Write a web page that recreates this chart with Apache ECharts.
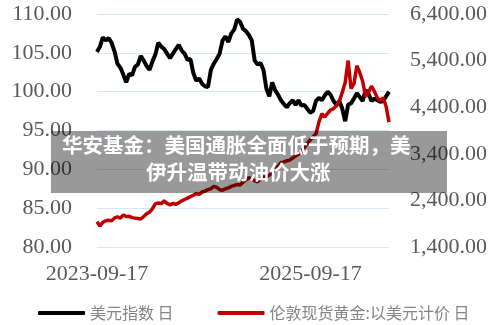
<!DOCTYPE html>
<html>
<head>
<meta charset="utf-8">
<script src="https://cdn.jsdelivr.net/npm/echarts@6/dist/echarts.min.js"></script>
<style>
html,body{margin:0;padding:0;background:#fff;}
#chart{width:500px;height:325px;}
</style>
</head>
<body>
<div id="chart"></div>
<script>
// ---- data ----
const startDate = '2023-09-17';
const stepDays = 10;
const seriesNames = ['美元指数 日', '伦敦现货黄金:以美元计价 日'];
const xTickLabels = ['2023-09-17', '2025-09-17'];
const leftTicks = [80, 85, 90, 95, 100, 105, 110];
const rightTicks = [1400, 2400, 3400, 4400, 5400, 6400];
const dxy = [
  105.1,105.8,107.0,106.6,106.9,106.3,105.2,103.6,103.1,102.2,
  101.2,102.3,102.1,103.2,103.5,104.6,104.0,103.3,102.8,103.9,
  104.8,106.3,105.8,105.5,104.9,104.3,104.9,105.5,106.0,105.3,
  104.9,104.1,104.2,102.4,101.4,101.7,101.0,100.7,100.6,102.8,
  103.6,104.2,104.9,106.6,107.1,106.4,107.5,108.0,109.3,109.0,
  108.1,107.8,107.3,106.6,104.0,103.5,103.7,102.8,100.4,99.4,
  101.2,100.2,99.6,98.9,98.4,98.0,98.5,98.9,98.3,98.9,
  98.2,98.3,97.8,97.3,97.5,98.8,99.2,98.9,99.5,100.0,
  99.6,98.8,98.3,98.8,97.8,96.2,98.3,98.5,99.1,99.8,
  99.3,98.8,100.2,99.7,98.8,99.1,98.9,98.7,98.8,99.4,
  100.0
];
const gold = [
  1943,1850,1930,1965,1975,1960,2025,2045,2020,2085,
  2055,2060,2030,2020,2010,2000,2055,2115,2150,2225,
  2330,2345,2330,2390,2335,2305,2335,2315,2350,2390,
  2420,2450,2480,2510,2550,2530,2580,2600,2630,2650,
  2700,2680,2630,2620,2650,2670,2700,2720,2740,2730,
  2790,2840,2890,2860,2820,2800,2860,2900,2910,2940,
  3000,3050,3130,3210,3225,3250,3265,3310,3350,3390,
  3440,3530,3620,3700,3760,3830,4080,4260,4190,4270,
  4340,4370,4430,4530,4720,4930,5400,4800,4900,5290,
  5140,4950,4630,4720,4850,4740,4600,4540,4600,4420,
  4080
];

// ---- helpers ----
const DAY = 86400000;
const t0 = Date.parse(startDate + 'T00:00:00Z');
function fmtDate(ms){
  const d = new Date(ms);
  const p = n => (n < 10 ? '0' : '') + n;
  return d.getUTCFullYear() + '-' + p(d.getUTCMonth() + 1) + '-' + p(d.getUTCDate());
}
const dates = dxy.map((_, i) => fmtDate(t0 + i * stepDays * DAY));
const dayOff = s => Math.round((Date.parse(s + 'T00:00:00Z') - t0) / DAY);
const xs = dates.map(dayOff);
const tickInterval = dayOff(xTickLabels[1]) - dayOff(xTickLabels[0]);

const serif = '"Liberation Serif", "Times New Roman", serif';
const cjk = '"Noto Sans CJK SC", sans-serif';

const chart = echarts.init(document.getElementById('chart'), null, {renderer: 'canvas'});
chart.setOption({
  animation: false,
  backgroundColor: '#ffffff',
  grid: {left: 97, right: 111, top: 14, bottom: 78, containLabel: false},
  legend: {
    left: 33, top: 300, itemWidth: 47, itemHeight: 4, itemGap: 44,
    icon: 'roundRect',
    textStyle: {fontFamily: cjk, fontSize: 16, color: '#858585'},
    data: seriesNames
  },
  xAxis: {
    type: 'value', min: 0, max: xs[xs.length - 1], interval: tickInterval,
    axisLine: {show: false}, axisTick: {show: false}, splitLine: {show: false},
    axisLabel: {
      margin: 16, showMaxLabel: false, color: '#595959',
      fontFamily: serif, fontSize: 22,
      formatter: v => fmtDate(t0 + v * DAY)
    }
  },
  yAxis: [
    {
      type: 'value', min: leftTicks[0], max: leftTicks[leftTicks.length - 1],
      interval: leftTicks[1] - leftTicks[0],
      axisLine: {show: false}, axisTick: {show: false},
      splitLine: {show: true, lineStyle: {color: '#d9e4f5', width: 1}},
      axisLabel: {margin: 25, color: '#595959', fontFamily: serif, fontSize: 22,
        formatter: v => v.toFixed(2)}
    },
    {
      type: 'value', min: rightTicks[0], max: rightTicks[rightTicks.length - 1],
      interval: rightTicks[1] - rightTicks[0],
      axisLine: {show: false}, axisTick: {show: false}, splitLine: {show: false},
      axisLabel: {margin: 21, color: '#595959', fontFamily: serif, fontSize: 22,
        formatter: v => v.toLocaleString('en-US', {minimumFractionDigits: 2, maximumFractionDigits: 2})}
    }
  ],
  series: [
    {
      name: seriesNames[0], type: 'line', yAxisIndex: 0, symbol: 'none',
      lineStyle: {color: '#000000', width: 4}, itemStyle: {color: '#000000'},
      data: xs.map((x, i) => [x, dxy[i]])
    },
    {
      name: seriesNames[1], type: 'line', yAxisIndex: 1, symbol: 'none',
      lineStyle: {color: '#c00000', width: 3.5}, itemStyle: {color: '#c00000'},
      data: xs.map((x, i) => [x, gold[i]])
    }
  ],
  graphic: [
    {type: 'rect', left: 51, top: 131, z: 100,
      shape: {width: 396, height: 62}, style: {fill: 'rgba(0,0,0,0.4)'}},
    {type: 'text', left: 62, top: 135, z: 101,
      style: {text: '华安基金：美国通胀全面低于预期，美', fill: '#ffffff',
        font: 'bold 20.5px "Noto Sans CJK SC", sans-serif'}},
    {type: 'text', left: 146, top: 162, z: 101,
      style: {text: '伊升温带动油价大涨', fill: '#ffffff',
        font: 'bold 20.5px "Noto Sans CJK SC", sans-serif'}}
  ]
});
</script>
</body>
</html>
